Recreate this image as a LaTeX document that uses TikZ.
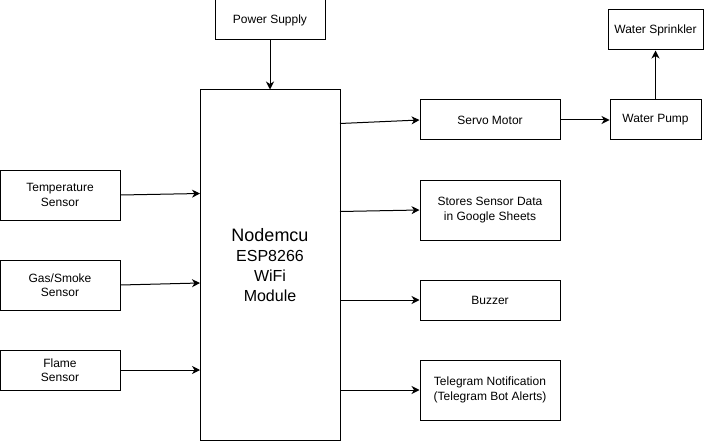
\documentclass[tikz,border=0pt]{standalone}
\usepackage{fontspec}
\setmainfont{Liberation Sans}
\usetikzlibrary{arrows.meta}

\tikzset{every picture/.style={line width=1pt}}
\tikzset{
  blockbox/.style={draw, rectangle, inner sep=0pt, align=center,
    font=\fontsize{12}{14.4}\selectfont},
  flowarrow/.style={-{Stealth[length=8pt,width=8pt,inset=2.5pt]}}
}

\begin{document}
\begin{tikzpicture}[x=1pt,y=1pt,yscale=-1,xscale=1]
\useasboundingbox (0,0) rectangle (704,441);

%Blocks
\node (power) [blockbox, minimum width=110, minimum height=40] at (270,20) {Power Supply};
\node (nodemcu) [blockbox, minimum width=140, minimum height=350, font=\fontsize{16}{20}\selectfont] at (270,265) {{\fontsize{18}{22}\selectfont Nodemcu}\\ESP8266\\WiFi\\Module};
\node (temp) [blockbox, minimum width=120, minimum height=50] at (60,195) {Temperature\\Sensor};
\node (gas) [blockbox, minimum width=120, minimum height=50] at (60,285) {Gas/Smoke\\Sensor};
\node (flame) [blockbox, minimum width=120, minimum height=40] at (60,370) {Flame\\Sensor};
\node (servo) [blockbox, minimum width=140, minimum height=40] at (490,120) {Servo Motor};
\node (pump) [blockbox, minimum width=91, minimum height=40] at (655.5,120) {Water Pump};
\node (sprinkler) [blockbox, minimum width=95, minimum height=40] at (655.5,30) {Water Sprinkler};
\node (sheets) [blockbox, minimum width=140, minimum height=60] at (490,210) {Stores Sensor Data\\in Google Sheets};
\node (buzzer) [blockbox, minimum width=140, minimum height=40] at (490,300) {Buzzer};
\node (telegram) [blockbox, minimum width=140, minimum height=60] at (490,390) {Telegram Notification\\(Telegram Bot Alerts)};

%Ends on the Nodemcu border
\coordinate (inTemp) at (200,193.5);
\coordinate (inGas) at (200,283);
\coordinate (inFlame) at (200,370);
\coordinate (outServo) at (340,123.5);
\coordinate (outSheets) at (340,211.5);
\coordinate (outBuzzer) at (340,300);
\coordinate (outTelegram) at (340,390);

%Connectors
\draw [flowarrow] (power) -- (nodemcu);
\draw [flowarrow] (temp.east) -- (inTemp);
\draw [flowarrow] (gas.east) -- (inGas);
\draw [flowarrow] (flame.east) -- (inFlame);
\draw [flowarrow] (outServo) -- (servo.west);
\draw [flowarrow] (outSheets) -- (sheets.west);
\draw [flowarrow] (outBuzzer) -- (buzzer.west);
\draw [flowarrow] (outTelegram) -- (telegram.west);
\draw [flowarrow] (servo) -- (pump);
\draw [flowarrow] (pump) -- (sprinkler);

\end{tikzpicture}
\end{document}
